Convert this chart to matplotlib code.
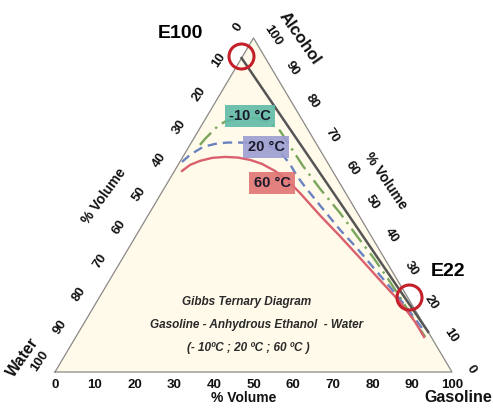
import matplotlib
matplotlib.use('Agg')
import matplotlib.pyplot as plt
import numpy as np

plt.rcParams['font.family'] = ['Liberation Sans', 'DejaVu Sans']

# binodal curves, % volume (water = 100 - gasoline - alcohol)
gas_m10 = [2.5, 2.9, 3.5, 4.2, 5.5, 8.6, 12.4, 15.9, 20.6, 25.3, 31.6, 39.4,
           48.0, 55.7, 62.9, 69.4, 75.6, 81.7, 88.0]
alc_m10 = [68.0, 69.8, 71.6, 73.7, 75.1, 76.0, 76.0, 75.1, 72.2, 67.7, 61.7,
           54.8, 47.6, 40.7, 34.4, 28.4, 22.5, 16.5, 10.5]
gas_20 = [0.55, 1.5, 3.6, 6.2, 9.0, 12.3, 16.1, 19.9, 23.8, 28.0, 31.6, 35.3,
          43.1, 50.6, 57.5, 64.4, 71.7, 78.7, 85.8]
alc_20 = [62.9, 65.0, 67.4, 68.3, 68.7, 68.7, 68.6, 67.7, 65.9, 62.3, 58.7,
          55.4, 48.8, 42.5, 37.1, 31.4, 25.4, 19.5, 13.2]
gas_60 = [1.9, 3.0, 4.9, 7.5, 10.6, 14.0, 17.4, 21.0, 25.3, 30.1, 34.9, 43.3,
          51.4, 59.8, 68.1, 76.4, 83.2, 87.7]
alc_60 = [60.2, 62.0, 63.2, 64.1, 64.4, 64.2, 63.5, 62.3, 60.2, 57.2, 53.6,
          46.9, 40.7, 34.1, 27.5, 21.0, 15.0, 10.5]
curve_labels = ['-10 °C', '20 °C', '60 °C']

# E100 -> E22 dilution line and marked blends
line_gas = [0, 88]
line_alc = [94, 12]
blend_names = ['E100', 'E22']
blend_gas = [-0.5, 78]
blend_alc = [94.5, 22.5]

ticks = list(range(0, 101, 10))

W, H = 493, 409
X0, Y0 = 55, 37          # pixel position of the water corner (from bottom-left)
SX, SY = 3.97, 3.34      # pixels per % along x and y


def tern(g, a):
    g = np.asarray(g, dtype=float)
    a = np.asarray(a, dtype=float)
    return g + a / 2, a


def px(x, y):
    # pixel position (from top-left) -> figure fraction
    return x / W, 1 - y / H


fig = plt.figure(figsize=(W / 100, H / 100), dpi=100)
ax = fig.add_axes([0, 0, 1, 1])
ax.set_xlim(-X0 / SX, (W - X0) / SX)
ax.set_ylim(-Y0 / SY, (H - Y0) / SY)
ax.axis('off')

# triangle
tx, ty = tern([0, 100, 0, 0], [0, 0, 100, 0])
ax.fill(tx, ty, color='#fffaea', zorder=0)
ax.plot(tx, ty, color='#8a8a8a', lw=0.9, zorder=1)

# dilution line
lx, ly = tern(line_gas, line_alc)
ax.plot(lx, ly, color='#555555', lw=1.8, zorder=2)

# curves
x, y = tern(gas_m10, alc_m10)
ax.plot(x, y, color='#78a65a', lw=1.7, dashes=(7, 2.5, 1, 2.5), zorder=3)
x, y = tern(gas_20, alc_20)
ax.plot(x, y, color='#6a82bf', lw=1.7, dashes=(4, 2.5), zorder=3)
x, y = tern(gas_60, alc_60)
ax.plot(x, y, color='#d9606c', lw=1.7, zorder=3)

# blend circles
bx, by = tern(blend_gas, blend_alc)
ax.plot(bx, by, 'o', ms=18, mfc='none', mec='#c4202a', mew=2.2, zorder=5)
fig.text(*px(180, 33), blend_names[0], fontsize=14, fontweight='bold',
         ha='center', va='center')
fig.text(*px(448, 272), blend_names[1], fontsize=14, fontweight='bold',
         ha='center', va='center')

# tick labels
tk = dict(fontsize=9.5, fontweight='bold', color='#111111',
          ha='center', va='center', textcoords='offset pixels')
for t in ticks:
    # gasoline (bottom)
    ax.annotate(str(t), tern(t, 0), xytext=(0, -13), **tk)
    # water (left)
    ax.annotate(str(t), tern(0, 100 - t), xytext=(-15, 11), rotation=56, **tk)
    # alcohol (right)
    ax.annotate(str(t), tern(100 - t, t), xytext=(19, 3), rotation=-56, **tk)

# axis titles
ttl = dict(fontweight='bold', color='#111111', ha='center', va='center')
fig.text(*px(244, 398), '% Volume', fontsize=10, **ttl)
fig.text(*px(104, 196), '% Volume', fontsize=10, rotation=54, **ttl)
fig.text(*px(386, 181), '% Volume', fontsize=10, rotation=-56, **ttl)
fig.text(*px(458, 398), 'Gasoline', fontsize=11.5, **ttl)
fig.text(*px(23, 357), 'Water', fontsize=11.5, rotation=55, **ttl)
fig.text(*px(300, 38), 'Alcohol', fontsize=12, rotation=-55, **ttl)

# temperature boxes
box_pos = [(250, 116), (266, 147), (272, 183)]
box_col = ['#5fbaa6', '#9c9dd2', '#e07474']
for lab, (bxp, byp), c in zip(curve_labels, box_pos, box_col):
    fig.text(*px(bxp, byp), lab, fontsize=10.5, fontweight='bold',
             color='#1a1a2a', ha='center', va='center', zorder=6,
             bbox=dict(boxstyle='square,pad=0.3', fc=c, ec='none', alpha=0.9))

# centre caption
cap = dict(fontsize=8.5, fontweight='bold', style='italic', color='#2a2a2a',
           ha='center', va='center')
fig.text(*px(247, 302), 'Gibbs Ternary Diagram', **cap)
fig.text(*px(257, 325), 'Gasoline - Anhydrous Ethanol  - Water', **cap)
fig.text(*px(248, 348), '(- 10ºC ; 20 ºC ; 60 ºC )', **cap)

fig.savefig('out.png', dpi=100)
